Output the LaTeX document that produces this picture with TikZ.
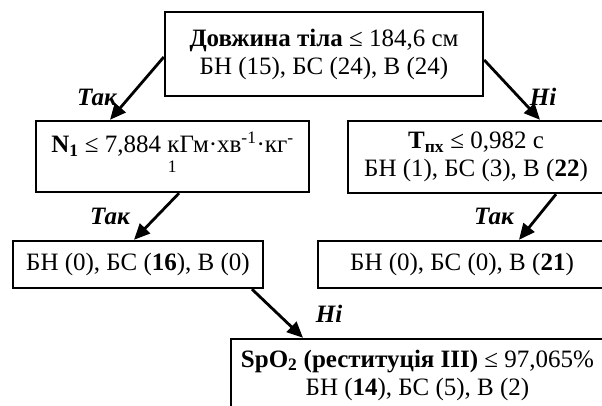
\documentclass[tikz,border=0pt]{standalone}
\usepackage{fontspec}
\setmainfont{Liberation Serif}
\usetikzlibrary{arrows.meta}
\begin{document}
\begin{tikzpicture}[x=1pt,y=-1pt,
  box/.style={draw,line width=2.4pt,rectangle,align=center,inner sep=0pt,
    font=\fontsize{25}{28}\selectfont},
  conn/.style={line width=2.8pt,-{Triangle[length=16pt,width=14pt]}},
  lbl/.style={font=\fontsize{25}{28}\selectfont\bfseries\itshape,inner sep=0pt}]
\useasboundingbox (0,0) rectangle (602,405);
\node[box,minimum width=318pt,minimum height=84pt] (b1) at (324,54)
  {\textbf{Довжина тіла} ≤ 184,6 см\\БН (15), БС (24), В (24)};
\node[box,minimum width=273pt,minimum height=71pt] (n1) at (172.5,156.5)
  {\textbf{N\textsubscript{1}} ≤ 7,884 кГм·хв\textsuperscript{-1}·кг\textsuperscript{-}\\[1pt]\textsuperscript{1}};
\node[box,minimum width=256pt,minimum height=72pt] (t1) at (476,157)
  {\textbf{T\textsubscript{пх}} ≤ 0,982 с\\БН (1), БС (3), В (\textbf{22})};
\node[box,minimum width=250pt,minimum height=47pt] (l1) at (138,264.5)
  {БН (0), БС (\textbf{16}), В (0)};
\node[box,minimum width=288pt,minimum height=47pt] (r1) at (462,264.5)
  {БН (0), БС (0), В (\textbf{21})};
\node[box,minimum width=373pt,minimum height=72pt] (s1) at (417.5,375)
  {\textbf{SpO\textsubscript{2} (реституція ІІІ)} ≤ 97,065\%\\БН (\textbf{14}), БС (5), В (2)};
\draw[conn] ([yshift=-3pt]b1.west) -- ([xshift=-62.5pt]n1.north);
\draw[conn] ([yshift=-6pt]b1.east) -- ([xshift=64pt]t1.north);
\draw[conn] ([xshift=6.5pt]n1.south) -- ([xshift=-4pt]l1.north);
\draw[conn] ([xshift=80pt]t1.south) -- ([xshift=57pt]r1.north);
\draw[conn] ([xshift=114pt]l1.south) -- ([xshift=-114.5pt]s1.north);
\node[lbl] (y1) at (97,97) {Так};
\node[lbl] (no1) at (543,97) {Ні};
\node[lbl] (y2) at (110,216) {Так};
\node[lbl] (y3) at (494,216) {Так};
\node[lbl] (no2) at (329,314) {Ні};
\end{tikzpicture}
\end{document}
